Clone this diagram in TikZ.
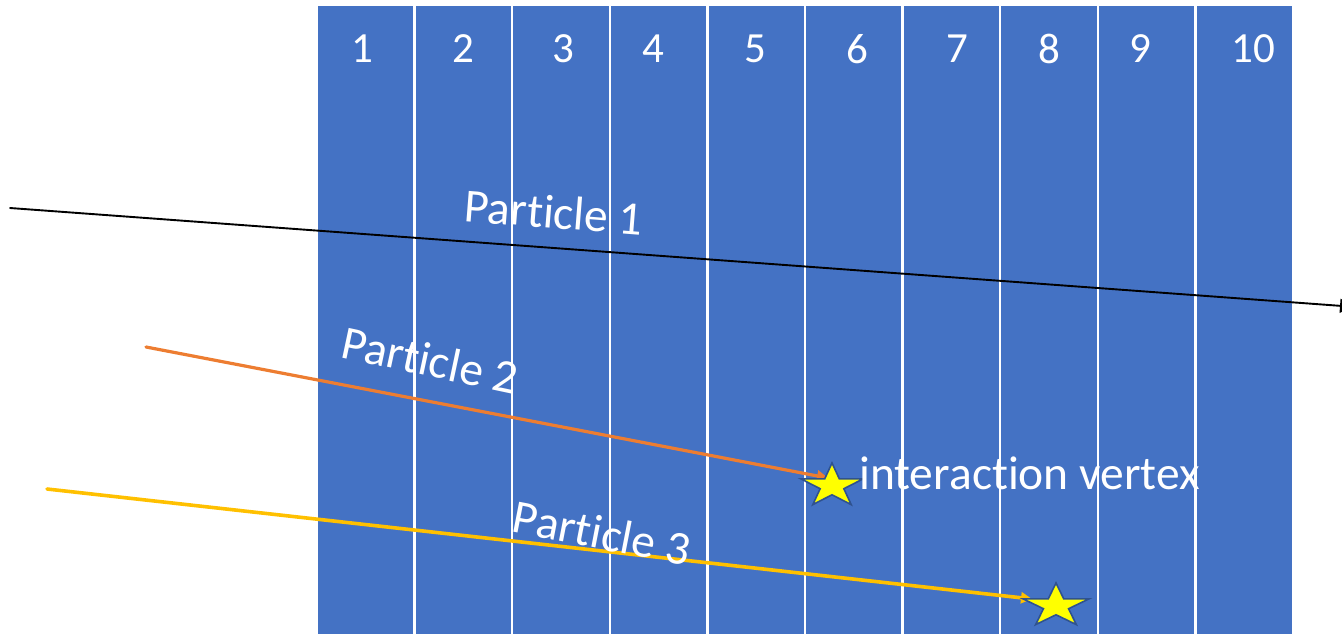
\documentclass[tikz,border=0pt]{standalone}
\usepackage{fontspec}
\setmainfont[Ligatures=NoCommon]{Carlito}
\usetikzlibrary{shapes.geometric,arrows.meta}
\definecolor{stripblue}{HTML}{4472C4}
\definecolor{porange}{HTML}{ED7D31}
\definecolor{pyellow}{HTML}{FFC000}
\definecolor{starline}{HTML}{2F528F}
\definecolor{staryellow}{HTML}{FFFF00}
\tikzset{
  stripbox/.style={draw=white, fill=stripblue, line width=2.4pt, minimum width=97.6pt, minimum height=630pt, inner sep=0pt, outer sep=0pt},
  numlabel/.style={text=white, font=\fontsize{43}{50}\selectfont, inner sep=0pt},
  plabel/.style={text=white, font=\fontsize{47.5}{56}\selectfont, inner sep=0pt},
  vstar/.style={star, star points=5, star point ratio=2.618, minimum size=46pt, inner sep=0pt, fill=staryellow, draw=starline, line width=1.6pt, xscale=1.42, transform shape},
  track/.style={line cap=round}
}
\begin{document}
\begin{tikzpicture}[x=1pt,y=-1pt]
\useasboundingbox (0,0) rectangle (1342,635);
\clip (0,0) rectangle (1342,635);
% detector strips
\foreach \i in {1,...,10}
  \node[stripbox] (s\i) at ({317+97.6*(\i-0.5)},320) {};
% strip numbers
\foreach \i/\x in {1/362,2/463,3/563,4/653,5/755,6/857,7/957,8/1049,9/1140,10/1253}
  \node[numlabel] (n\i) at (\x,49) {\i};
% track endpoints
\coordinate (p1a) at (10,208);
\coordinate (p1b) at (1352,306.7);
\coordinate (p2a) at (146,347);
\coordinate (p2b) at (828,478);
\coordinate (p3a) at (47,489);
\coordinate (p3b) at (1032,599);
% tracks
\draw[track, black, line width=1.9pt, -{Triangle[length=12pt,width=14pt]}] (p1a) -- (p1b);
\draw[track, porange, line width=3.2pt, -{Triangle[length=11pt,width=11pt]}] (p2a) -- (p2b);
\draw[track, pyellow, line width=3.6pt, -{Triangle[length=11pt,width=11pt]}] (p3a) -- (p3b);
% labels
\node[plabel, rotate=-4.5] (l1) at (554,212) {Particle 1};
\node[plabel, rotate=-12] (l2) at (430,360) {Particle 2};
\node[plabel, rotate=-11] (l3) at (602,533) {Particle 3};
% vertices
\node[vstar] (v1) at (832,486) {};
\node[vstar, xscale=1.06] (v2) at (1056,606) {};
\node[plabel, anchor=west] (iv) at (859,473) {interaction vertex};
\end{tikzpicture}
\end{document}
